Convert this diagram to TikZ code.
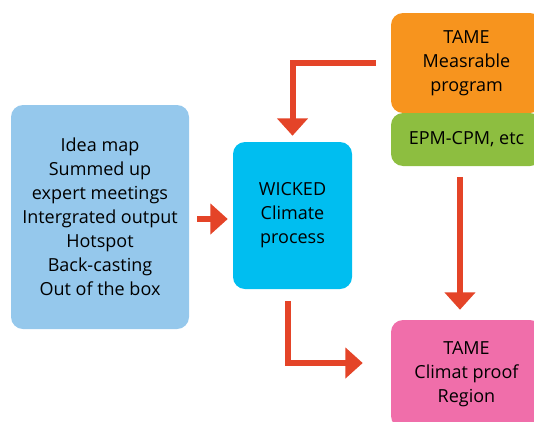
\documentclass[tikz,border=0pt]{standalone}
\usepackage{fontspec}
\setmainfont{Open Sans}
\usetikzlibrary{arrows.meta}

\definecolor{ideablue}{RGB}{149,200,236}
\definecolor{wickedcyan}{RGB}{0,190,240}
\definecolor{tameorange}{RGB}{247,148,30}
\definecolor{epmgreen}{RGB}{141,190,64}
\definecolor{regionpink}{RGB}{240,110,170}
\definecolor{arrowred}{RGB}{228,68,40}

\tikzset{
  box/.style={rounded corners=9pt, align=center, inner sep=0pt, font=\fontsize{13.5}{18}\selectfont},
  flow/.style={draw=arrowred, line width=4.5pt, -{Triangle[width=22.5pt,length=13pt]}},
}

\begin{document}
\begin{tikzpicture}[x=0.75pt,y=0.75pt,yscale=-1,xscale=1]
\useasboundingbox (0,0) rectangle (534,421);
\clip (0,0) rectangle (534,421);

%Shape: Rounded Rect [id:ideas]
\node[box, fill=ideablue, minimum width=133.5pt, minimum height=168pt] (ideas) at (100,217)
  {Idea map\\Summed up\\expert meetings\\Intergrated output\\Hotspot\\Back-casting\\Out of the box};
%Shape: Rounded Rect [id:wicked]
\node[box, fill=wickedcyan, minimum width=89.25pt, minimum height=110.25pt] (wicked) at (292.5,215.5)
  {WICKED\\Climate\\process};
%Shape: Rounded Rect [id:tame]
\node[box, fill=tameorange, minimum width=113.25pt, minimum height=75pt] (tame) at (466.5,63)
  {TAME\\Measrable\\program};
%Shape: Rounded Rect [id:epm]
\node[box, fill=epmgreen, minimum width=113.25pt, minimum height=39.75pt] (epm) at (466.5,139.5)
  {EPM-CPM, etc};
%Shape: Rounded Rect [id:region]
\node[box, fill=regionpink, minimum width=113.25pt, minimum height=81pt] (region) at (466.5,374)
  {TAME\\Climat proof\\Region};

%Straight Lines [id:ideas-wicked]
\draw[flow, shorten <=6pt, shorten >=3.75pt] ([yshift=1.5pt]ideas.east) -- ([yshift=1.5pt]ideas.east -| wicked.west);
%Straight Lines [id:tame-wicked]
\draw[flow, shorten <=11pt, shorten >=4.5pt] (tame.west) -| (wicked.north);
%Straight Lines [id:epm-region]
\draw[flow, shorten <=8pt, shorten >=7.5pt] ([xshift=-4.9pt]epm.south) -- ([xshift=-4.9pt]region.north);
%Straight Lines [id:wicked-region]
\draw[flow, shorten <=9pt, shorten >=21pt] ([xshift=-3.4pt]wicked.south) |- ([yshift=-8.25pt]region.west);

\end{tikzpicture}
\end{document}
